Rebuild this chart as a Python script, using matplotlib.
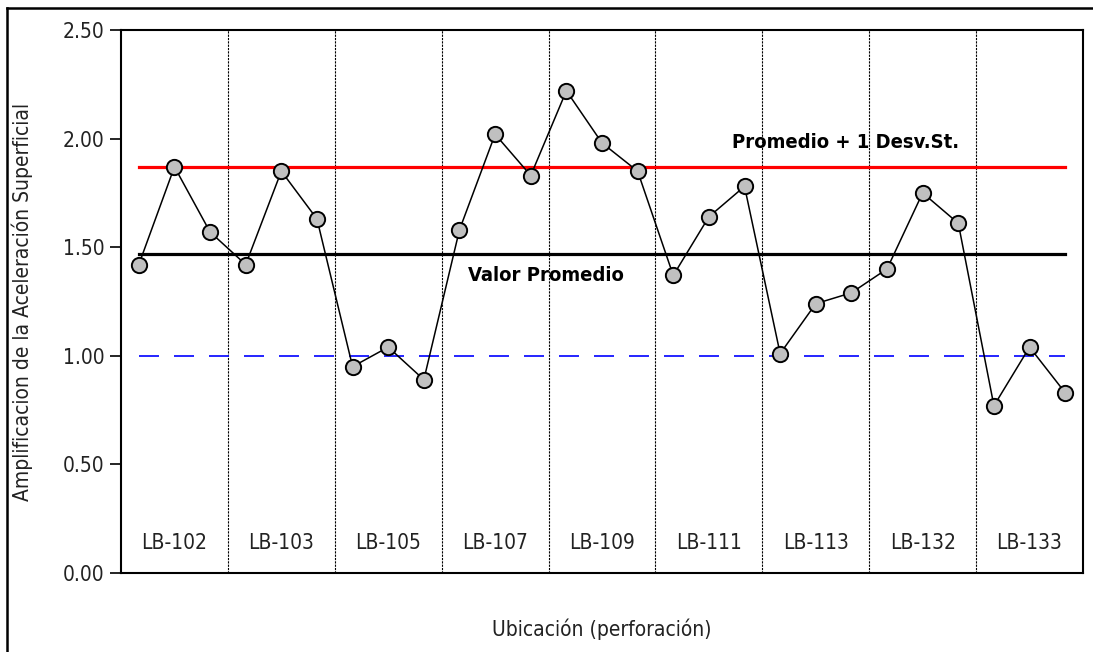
import matplotlib
matplotlib.use('Agg')
import matplotlib.pyplot as plt
from matplotlib import font_manager as fm
from matplotlib.lines import Line2D
import numpy as np

# Boreholes and amplification values (3 per borehole)
sondeos = ['LB-102', 'LB-103', 'LB-105', 'LB-107', 'LB-109',
           'LB-111', 'LB-113', 'LB-132', 'LB-133']
amplificacion = [1.42, 1.87, 1.57,
                 1.42, 1.85, 1.63,
                 0.95, 1.04, 0.89,
                 1.58, 2.02, 1.83,
                 2.22, 1.98, 1.85,
                 1.37, 1.64, 1.78,
                 1.01, 1.24, 1.29,
                 1.40, 1.75, 1.61,
                 0.77, 1.04, 0.83]
promedio = 1.47
promedio_mas_std = 1.87
referencia = 1.00
yticks = [0.0, 0.5, 1.0, 1.5, 2.0, 2.5]

# pick a condensed sans if one is around
fonts = fm.fontManager.ttflist
names = {f.name for f in fonts}
stretch = 'normal'
if 'Liberation Sans Narrow' in names:
    family = 'Liberation Sans Narrow'
elif any(f.name == 'DejaVu Sans' and f.stretch == 'condensed' for f in fonts):
    family, stretch = 'DejaVu Sans', 'condensed'
else:
    family = 'Liberation Sans'
plt.rcParams['font.family'] = [family, 'DejaVu Sans']
plt.rcParams['font.stretch'] = stretch
FS = 15

fig = plt.figure(figsize=(10.93, 6.52), dpi=100)
ax = fig.add_axes([121 / 1093, 1 - 573 / 652, 962 / 1093, 543 / 652])

x = np.arange(len(amplificacion))
n_per = len(amplificacion) // len(sondeos)

# group separators
for k in range(1, len(sondeos)):
    ax.axvline(k * n_per - 0.5, color='black', lw=0.8, ls=(0, (2, 1)), zorder=1)

# reference lines
ax.plot([x[0], x[-1]], [promedio_mas_std] * 2, color='#ff0000', lw=2.3, zorder=2)
ax.plot([x[0], x[-1]], [promedio] * 2, color='black', lw=2.3, zorder=2)
ax.plot([x[0], x[-1]], [referencia] * 2, color='#0000ff', lw=1.2,
        dashes=(12, 9), zorder=2)

# data
ax.plot(x, amplificacion, color='black', lw=1.1, marker='o', markersize=11,
        markerfacecolor='#c0c0c0', markeredgecolor='black', markeredgewidth=1.4,
        zorder=3)

# borehole labels
for k, name in enumerate(sondeos):
    ax.text(k * n_per + (n_per - 1) / 2, 0.14, name, ha='center', va='center',
            fontsize=FS, color='#222222')

ax.text(16.65, 1.98, 'Promedio + 1 Desv.St.', ha='left', va='center',
        fontsize=14.5, fontweight='bold')
ax.text(9.24, 1.37, 'Valor Promedio', ha='left', va='center',
        fontsize=14.5, fontweight='bold')

ax.set_xlim(-0.5, len(amplificacion) - 0.5)
ax.set_ylim(0, 2.5)
ax.set_xticks([])
ax.set_yticks(yticks)
ax.set_yticklabels([f'{v:.2f}' for v in yticks], fontsize=FS, color='#222222')
ax.tick_params(axis='y', direction='out', length=8, width=1.2, pad=4)
for s in ax.spines.values():
    s.set_linewidth(1.5)
    s.set_color('black')

ax.set_ylabel('Amplificacion de la Aceleración Superficial', fontsize=FS,
              color='#222222')
ax.yaxis.set_label_coords(-88 / 962, 0.5)
fig.text(602 / 1093, 1 - 629 / 652, 'Ubicación (perforación)', ha='center',
         va='center', fontsize=FS, color='#222222')

# outer frame (top and left edges)
fig.add_artist(Line2D([7 / 1093, 1.0], [1 - 8 / 652] * 2, color='black', lw=1.8,
                      transform=fig.transFigure))
fig.add_artist(Line2D([7 / 1093] * 2, [0.0, 1 - 8 / 652], color='black', lw=1.8,
                      transform=fig.transFigure))

fig.savefig('out.png', dpi=100, facecolor='white')
